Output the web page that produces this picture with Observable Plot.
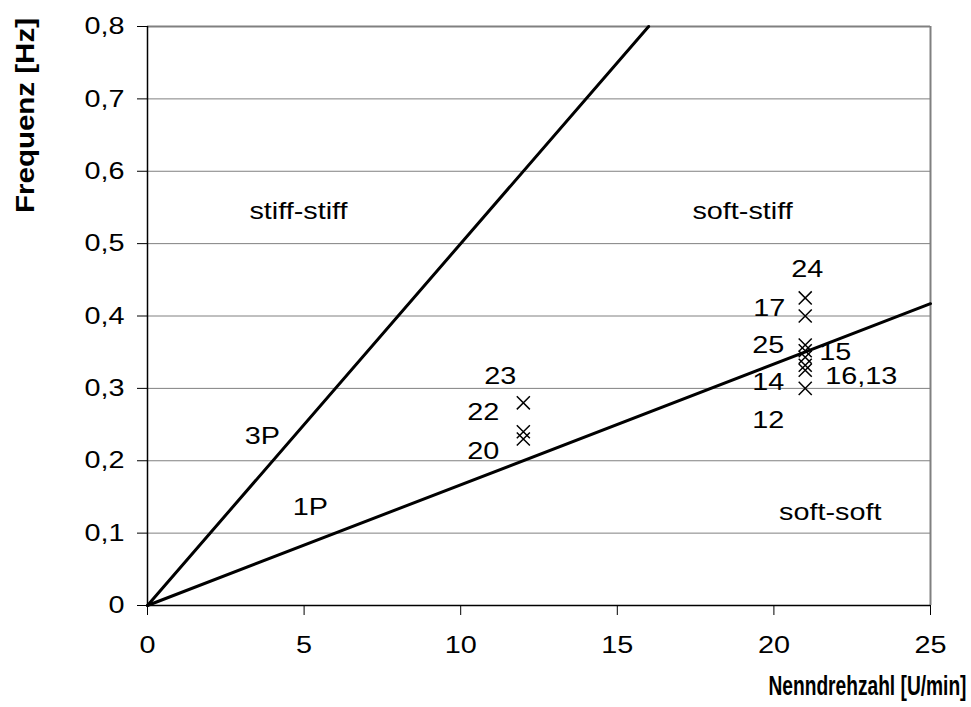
<!DOCTYPE html>
<html><head><meta charset="utf-8">
<script src="https://cdn.jsdelivr.net/npm/d3@7"></script>
<script src="https://cdn.jsdelivr.net/npm/@observablehq/plot@0.6"></script>
<style>
body{margin:0;background:#fff;}
#chart svg{display:block;}
</style>
</head><body><div id="chart"></div>
<script>
// ---- data ----
const xTicks = [0, 5, 10, 15, 20, 25];
const yTicks = [0, 0.1, 0.2, 0.3, 0.4, 0.5, 0.6, 0.7, 0.8];
const yTickLabels = ["0", "0,1", "0,2", "0,3", "0,4", "0,5", "0,6", "0,7", "0,8"];

const line3P_rpm = [0, 16];
const line3P_freq = [0, 0.8];
const line1P_rpm = [0, 25];
const line1P_freq = [0, 0.417];

const turbineRpm  = [12, 12, 12, 21, 21, 21, 21, 21, 21, 21, 21];
const turbineFreq = [0.28, 0.24, 0.23, 0.425, 0.40, 0.36, 0.352, 0.343, 0.332, 0.325, 0.30];
const turbineLabel = ["23", "22", "20", "24", "17", "25", "15", "14", "16,13", "", "12"];

const regionNames = ["stiff-stiff", "soft-stiff", "soft-soft", "3P", "1P"];
const regionRpm   = [4.82, 19.0, 21.8, 3.67, 5.2];
const regionFreq  = [0.544, 0.544, 0.1285, 0.2335, 0.135];

// ---- label placement (pixel offsets, styling) ----
const labelOffset = {
  "23": [-23, -27], "22": [-40, -19], "20": [-40, 12],
  "24": [2, -29], "17": [-36, -8], "25": [-37, 0], "15": [30, 2],
  "14": [-37, 25], "16,13": [56, 11], "12": [-37, 32]
};

const points = turbineRpm.map((x, i) => ({x, y: turbineFreq[i], label: turbineLabel[i]}));
const l3 = line3P_rpm.map((x, i) => ({x, y: line3P_freq[i]}));
const l1 = line1P_rpm.map((x, i) => ({x, y: line1P_freq[i]}));
const regions = regionNames.map((t, i) => ({t, x: regionRpm[i], y: regionFreq[i]}));

const font = "'Liberation Sans', Arial, Helvetica, sans-serif";
const gray = "#808080";

const labelMarks = Object.keys(labelOffset).map(k =>
  Plot.text(points.filter(p => p.label === k), {
    x: "x", y: "y", text: "label",
    dx: labelOffset[k][0], dy: labelOffset[k][1],
    fontSize: 24, fill: "#000"
  })
);

const chart = Plot.plot({
  width: 971,
  height: 707,
  marginLeft: 147,
  marginRight: 41,
  marginTop: 26,
  marginBottom: 102,
  style: {fontFamily: font, fontSize: "24px", background: "#fff", color: "#000", overflow: "visible"},
  x: {domain: [0, 25], ticks: xTicks},
  y: {domain: [0, 0.8], ticks: yTicks},
  marks: [
    Plot.ruleY(yTicks.filter(v => v > 0 && v < 0.8), {stroke: gray, strokeWidth: 1}),
    Plot.ruleY([0.8], {stroke: gray, strokeWidth: 2}),
    Plot.ruleX([25], {stroke: gray, strokeWidth: 2}),
    Plot.ruleY([0], {stroke: "#000", strokeWidth: 1.5}),
    Plot.ruleX([0], {stroke: "#000", strokeWidth: 1.5}),
    Plot.axisX({ticks: xTicks, tickSize: 10, tickPadding: 20, label: null, stroke: "#000", tickFormat: d => String(d)}),
    Plot.axisY({ticks: yTicks, tickSize: 10, tickPadding: 13, label: null, stroke: "#000",
      tickFormat: d => yTickLabels[yTicks.findIndex(v => Math.abs(v - d) < 1e-9)]}),
    Plot.line(l3, {x: "x", y: "y", stroke: "#000", strokeWidth: 3}),
    Plot.line(l1, {x: "x", y: "y", stroke: "#000", strokeWidth: 3}),
    Plot.dot(points, {x: "x", y: "y", symbol: "times", r: 6, stroke: "#000", strokeWidth: 1.5}),
    ...labelMarks,
    Plot.text(regions, {x: "x", y: "y", text: "t", fontSize: 24, fill: "#000"}),
    Plot.text(["Frequenz [Hz]"], {frameAnchor: "top-left", dx: -132, dy: 89, rotate: -90,
      fontSize: 26, fontWeight: "bold", fill: "#000", textAnchor: "middle"}),
    Plot.text(["Nenndrehzahl [U/min]"], {frameAnchor: "bottom-right", dx: 36, dy: 89,
      fontSize: 28, fontWeight: "bold", fill: "#000", textAnchor: "end"})
  ]
});

document.getElementById("chart").append(chart);

// the reference's text is drawn horizontally wider than plain Arial
d3.select(chart).selectAll("text").each(function() {
  const t = this.textContent;
  if (!t) return;
  let len;
  if (t === "Nenndrehzahl [U/min]") len = 198;
  else if (t === "Frequenz [Hz]") len = 195;
  else len = this.getComputedTextLength() * 1.2;
  d3.select(this).attr("textLength", len).attr("lengthAdjust", "spacingAndGlyphs");
});
</script>
</body></html>
